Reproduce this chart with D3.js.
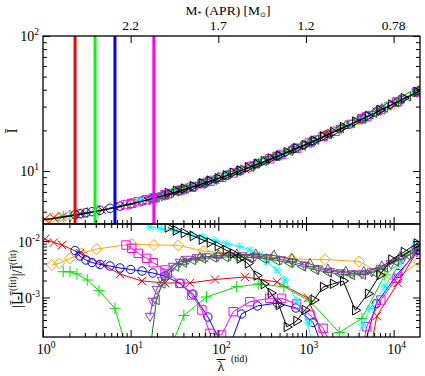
<!DOCTYPE html>
<html>
<head>
<meta charset="utf-8">
<script src="https://cdn.jsdelivr.net/npm/d3@7"></script>
<style>
  html, body { margin: 0; padding: 0; background: #fff; }
  svg { display: block; }
</style>
</head>
<body>
<div id="chart"></div>
<script>
// fit curve (top panel)
const fitLambda = [1, 2, 5, 10, 20, 50, 100, 200, 500, 1000, 2000, 5000, 10000, 20000];
const fitI      = [4.35, 4.64, 5.16, 5.69, 6.38, 7.59, 8.79, 10.33, 13.04, 15.7, 19.24, 25.3, 31.4, 39.2];

// top axis: M* (APR)
const mstarLambda = [10, 100, 1000, 10000];
const mstarLabels = ["2.2", "1.7", "1.2", "0.78"];

// vertical markers in the top panel
const vlineLambda = [2.32, 3.92, 6.62, 18.4];
const vlineColors = ["#ff0000", "#00ff00", "#0000ff", "#ff00ff"];

// relative residuals |I - I_fit| / I_fit, one pair of arrays per EOS
const orangeLambda = [1.26, 1.53, 2.03, 2.76, 4.10, 10.3, 18.4, 34.9, 67.3, 229, 685, 1640, 4040, 10000, 19400];
const orangeErr    = [0.00376, 0.00403, 0.00494, 0.00606, 0.00721, 0.00885, 0.00849, 0.0084, 0.00665, 0.00565, 0.0048, 0.00471, 0.00434, 0.00196, 0.00425];

const redLambda = [1.05, 1.33, 1.65, 2.64, 4.71, 7.55, 13.5, 24.6, 47.4, 91.5, 201, 466, 1050, 1870, 5350, 6430, 11200, 18900];
const redErr    = [0.0108, 0.0094, 0.0085, 0.0061, 0.0039, 0.0026, 0.00196, 0.00181, 0.00181, 0.00208, 0.00231, 0.00188, 0.00098, 0.0001, 0.0001, 0.00047, 0.0018, 0.0069];

const greenLambda = [1.70, 2.03, 2.44, 3.20, 4.35, 6.62, 9.31, 26.6, 40.5, 73.2, 162, 290, 560, 1110, 2400, 4340, 7940, 18800];
const greenErr    = [0.00286, 0.00286, 0.00261, 0.00204, 0.00132, 0.000644, 0.0001, 0.0001, 0.00048, 0.00102, 0.00155, 0.00173, 0.00155, 0.000867, 0.00024, 0.000425, 0.0025, 0.00752];

const blueLambda = [2.32, 2.64, 3.09, 3.62, 4.47, 5.81, 7.55, 10.0, 13.5, 17.9, 24.6, 36.5, 51.3, 76.1, 125, 184, 279, 472, 767, 1210, 1640, 4340, 6350, 11200, 19400];
const blueErr    = [0.00679, 0.00543, 0.00461, 0.00417, 0.00384, 0.00361, 0.00333, 0.00313, 0.00294, 0.00272, 0.0024, 0.00177, 0.00115, 0.000452, 0.0001, 0.000511, 0.000708, 0.0008, 0.000652, 0.000361, 0.0001, 0.0001, 0.000783, 0.00266, 0.00693];

const magentaLambda = [8.84, 10.3, 12.2, 15.2, 18.1, 24.6, 36.5, 49.6, 65.0, 80.2, 109, 148, 229, 387, 527, 781, 1110, 1570, 2140, 4340, 4910, 7150, 10800, 18200];
const magentaErr    = [0.00849, 0.00743, 0.00606, 0.00494, 0.00413, 0.00307, 0.00178, 0.00111, 0.000601, 0.000232, 0.000217, 0.000561, 0.000843, 0.000968, 0.000968, 0.000767, 0.00049, 0.000285, 0.0001, 0.0001, 0.000304, 0.000903, 0.00219, 0.00693];

const cyanLambda = [13, 16.6, 22.2, 32.0, 47.4, 66.7, 91.5, 125, 176, 229, 298, 358, 466, 574, 787, 1050, 1230, 3000, 4450, 5350, 7940, 11800, 17500];
const cyanErr    = [0.024, 0.0177, 0.0165, 0.015, 0.0133, 0.0118, 0.0102, 0.00896, 0.008, 0.00693, 0.00565, 0.00425, 0.00307, 0.00204, 0.000867, 0.000354, 0.0001, 0.0001, 0.000326, 0.000638, 0.00155, 0.00403, 0.00849];

const dkgreenLambda = [17.0, 19.7, 23.0, 27.3, 32.9, 40.5, 51.3, 66.7, 89.1, 122, 167, 235, 331, 466, 655, 922, 1300, 1820, 2500, 3340, 4450, 5940, 7940, 10600, 14500, 19400];
const dkgreenErr    = [0.00015, 0.000903, 0.00177, 0.00272, 0.00354, 0.00417, 0.00461, 0.0049, 0.00511, 0.00521, 0.00521, 0.00511, 0.0049, 0.00452, 0.00408, 0.00354, 0.00307, 0.00277, 0.00255, 0.0025, 0.00255, 0.00283, 0.0034, 0.00434, 0.00565, 0.00721];

const violetLambda = [16.6, 17.9, 19.9, 22.7, 25.9, 30.4, 36.5, 45.0, 57.0, 74.1, 98.9, 136, 186, 261, 368, 517, 709, 971, 1370, 1870, 2500, 3340, 4340, 5640, 7150, 9290, 12700, 18400];
const violetErr    = [0.000471, 0.000867, 0.00141, 0.00204, 0.00283, 0.00361, 0.00425, 0.0048, 0.00511, 0.00532, 0.00543, 0.00554, 0.00554, 0.00543, 0.00511, 0.00471, 0.00425, 0.00376, 0.00326, 0.00294, 0.00277, 0.00266, 0.00266, 0.00288, 0.00333, 0.004, 0.0049, 0.00652];

const grayLambda = [38.5, 61.7, 100, 163, 268, 430, 691, 1110, 1780, 2850, 4570, 7330, 11800, 18900];
const grayErr    = [0.00434, 0.00511, 0.00554, 0.00577, 0.00577, 0.00554, 0.0048, 0.00392, 0.00313, 0.00283, 0.00283, 0.00354, 0.00521, 0.00783];

const blackLambda = [26.6, 32.9, 40.5, 51.3, 65.0, 80.2, 98.9, 122, 147, 176, 218, 275, 331, 398, 491, 606, 781, 971, 1230, 1570, 2040, 2660, 3660, 5120, 6960, 9460, 13100, 18400];
const blackErr    = [0.0173, 0.0153, 0.0139, 0.0123, 0.0106, 0.00942, 0.00817, 0.00693, 0.00601, 0.0049, 0.004, 0.00245, 0.00173, 0.0012, 0.000736, 0.000301, 0.000384, 0.000601, 0.000903, 0.00153, 0.00175, 0.00196, 0.000594, 0.00117, 0.0025, 0.00471, 0.00638, 0.00903];

const series = [
  { lam: orangeLambda,  err: orangeErr,  color: "#ffa500", marker: "diamond" },
  { lam: redLambda,     err: redErr,     color: "#ff0000", marker: "x" },
  { lam: greenLambda,   err: greenErr,   color: "#00e000", marker: "plus" },
  { lam: blueLambda,    err: blueErr,    color: "#0000ff", marker: "circle" },
  { lam: magentaLambda, err: magentaErr, color: "#ff00ff", marker: "square" },
  { lam: cyanLambda,    err: cyanErr,    color: "#00ffff", marker: "star" },
  { lam: dkgreenLambda, err: dkgreenErr, color: "#008b00", marker: "tri-left" },
  { lam: violetLambda,  err: violetErr,  color: "#9932cc", marker: "tri-down" },
  { lam: grayLambda,    err: grayErr,    color: "#555555", marker: "tri-up" },
  { lam: blackLambda,   err: blackErr,   color: "#000000", marker: "tri-right" }
];

// ---------------- layout ----------------
const W = 425, H = 376;
const L = 43, R = 420, T = 36, MID = 224, B = 337;
const FONT = "'Liberation Serif', 'Times New Roman', serif";

const svg = d3.select("#chart").append("svg")
  .attr("width", W).attr("height", H)
  .attr("font-family", FONT);

const x = d3.scaleLog().domain([1, 2e4]).range([L, R]);
const yTop = d3.scaleLog().domain([4.05, 100]).range([MID, T]);
const yBot = d3.scaleLog().domain([2e-4, 2e-2]).range([B, MID]);
const fitAt = d3.scaleLog().domain(fitLambda).range(fitI);

const defs = svg.append("defs");
defs.append("clipPath").attr("id", "clipTop").append("rect")
  .attr("x", L).attr("y", T).attr("width", R - L).attr("height", MID - T);
defs.append("clipPath").attr("id", "clipBot").append("rect")
  .attr("x", L).attr("y", MID).attr("width", R - L).attr("height", B - MID);

function markerPath(type, r) {
  if (type === "circle") return `M${r},0A${r},${r} 0 1,1 ${-r},0A${r},${r} 0 1,1 ${r},0Z`;
  if (type === "square") return `M${-r},${-r}H${r}V${r}H${-r}Z`;
  if (type === "diamond") { const d = r * 1.3; return `M0,${-d}L${d},0L0,${d}L${-d},0Z`; }
  if (type === "x") return `M${-r},${-r}L${r},${r}M${-r},${r}L${r},${-r}`;
  if (type === "plus") { const p = r * 1.35; return `M${-p},0H${p}M0,${-p}V${p}`; }
  if (type === "star") {
    const q = r * 0.75;
    return `M${-r},0H${r}M0,${-r}V${r}M${-q},${-q}L${q},${q}M${-q},${q}L${q},${-q}`;
  }
  const a0 = { "tri-up": -90, "tri-down": 90, "tri-right": 0, "tri-left": 180 }[type];
  const Rr = r * 1.3;
  const pts = [0, 1, 2].map(k => {
    const a = (a0 + k * 120) * Math.PI / 180;
    return [Rr * Math.cos(a), Rr * Math.sin(a)];
  });
  return "M" + pts.map(p => p[0].toFixed(2) + "," + p[1].toFixed(2)).join("L") + "Z";
}

// ---------------- top panel ----------------
const topG = svg.append("g").attr("clip-path", "url(#clipTop)");

series.forEach(s => {
  const pts = s.lam.map((l, i) => [l, fitAt(l) * (1 + s.err[i])]);
  topG.append("g").selectAll("path").data(pts).join("path")
    .attr("transform", d => `translate(${x(d[0])},${yTop(d[1])})`)
    .attr("d", markerPath(s.marker, 4.2))
    .attr("fill", "none").attr("stroke", s.color).attr("stroke-width", 1);
});

topG.append("path")
  .datum(fitLambda.map((l, i) => [l, fitI[i]]))
  .attr("fill", "none").attr("stroke", "#000").attr("stroke-width", 1.5)
  .attr("d", d3.line().x(d => x(d[0])).y(d => yTop(d[1])).curve(d3.curveMonotoneX));

topG.selectAll(".vline").data(vlineLambda).join("line")
  .attr("class", "vline")
  .attr("x1", d => x(d)).attr("x2", d => x(d))
  .attr("y1", T).attr("y2", MID)
  .attr("stroke", (d, i) => vlineColors[i]).attr("stroke-width", 3);

// ---------------- bottom panel ----------------
const botG = svg.append("g").attr("clip-path", "url(#clipBot)");
const resLine = d3.line().x(d => x(d[0])).y(d => yBot(d[1]));

series.forEach(s => {
  const pts = s.lam.map((l, i) => [l, s.err[i]]);
  botG.append("path").datum(pts)
    .attr("fill", "none").attr("stroke", s.color).attr("stroke-width", 1)
    .attr("d", resLine);
  botG.append("g").selectAll("path").data(pts).join("path")
    .attr("transform", d => `translate(${x(d[0])},${yBot(d[1])})`)
    .attr("d", markerPath(s.marker, 4.2))
    .attr("fill", "none").attr("stroke", s.color).attr("stroke-width", 1);
});

// ---------------- axes ----------------
const xMajor = [1, 10, 100, 1000, 10000];
const xMinor = [];
xMajor.forEach(m => d3.range(2, 10).forEach(k => { if (m * k < 2e4) xMinor.push(m * k); }));
const yTopMajor = [10, 100];
const yTopMinor = [5, 6, 7, 8, 9, 20, 30, 40, 50, 60, 70, 80, 90];
const yBotMajor = [1e-3, 1e-2];
const yBotMinor = [3e-4, 4e-4, 5e-4, 6e-4, 7e-4, 8e-4, 9e-4, 2e-3, 3e-3, 4e-3, 5e-3, 6e-3, 7e-3, 8e-3, 9e-3];

function ticks(axis, vals, size, tx, ty) {
  svg.append("g").attr("transform", `translate(${tx},${ty})`)
    .call(axis.tickValues(vals).tickSize(-size).tickFormat(""))
    .call(g => g.select(".domain").remove())
    .call(g => g.selectAll("line").attr("stroke", "#000").attr("stroke-width", 1));
}

[[xMajor, 7], [xMinor, 4]].forEach(([v, s]) => {
  ticks(d3.axisBottom(x), v, s, 0, MID);   // top panel, bottom edge
  ticks(d3.axisTop(x), v, s, 0, MID);      // bottom panel, top edge
  ticks(d3.axisBottom(x), v, s, 0, B);     // bottom panel, bottom edge
});
ticks(d3.axisTop(x), mstarLambda, 7, 0, T);

[[yTopMajor, 7], [yTopMinor, 4]].forEach(([v, s]) => {
  ticks(d3.axisLeft(yTop), v, s, L, 0);
  ticks(d3.axisRight(yTop), v, s, R, 0);
});
[[yBotMajor, 7], [yBotMinor, 4]].forEach(([v, s]) => {
  ticks(d3.axisLeft(yBot), v, s, L, 0);
  ticks(d3.axisRight(yBot), v, s, R, 0);
});

// frames
svg.append("rect").attr("x", L).attr("y", T).attr("width", R - L).attr("height", MID - T)
  .attr("fill", "none").attr("stroke", "#000").attr("stroke-width", 1.3);
svg.append("rect").attr("x", L).attr("y", MID).attr("width", R - L).attr("height", B - MID)
  .attr("fill", "none").attr("stroke", "#000").attr("stroke-width", 1.3);

// ---------------- labels ----------------
function powLabel(px, py, exp, anchor) {
  const t = svg.append("text").attr("x", px).attr("y", py)
    .attr("text-anchor", anchor).attr("font-size", 14).attr("fill", "#000");
  t.append("tspan").text("10");
  t.append("tspan").attr("font-size", 9.5).attr("dy", -6).text(exp);
}

xMajor.forEach(v => powLabel(x(v) + 3, B + 17, String(Math.round(Math.log10(v))), "middle"));
yTopMajor.forEach(v => powLabel(L - 4, yTop(v) + 5, String(Math.round(Math.log10(v))), "end"));
yBotMajor.forEach(v => powLabel(L - 3, yBot(v) + 5.5, String(Math.round(Math.log10(v))), "end"));

svg.selectAll(".mlab").data(mstarLambda).join("text")
  .attr("class", "mlab")
  .attr("x", d => x(d)).attr("y", 29.5)
  .attr("text-anchor", "middle").attr("font-size", 13.5)
  .text((d, i) => mstarLabels[i]);

const title = svg.append("text").attr("x", 228).attr("y", 14.5)
  .attr("text-anchor", "middle").attr("font-size", 13.5);
title.append("tspan").text("M");
title.append("tspan").attr("font-size", 8).attr("dy", 2).text("*");
title.append("tspan").attr("dy", -2).text(" (APR) [M");
title.append("tspan").attr("font-size", 7).attr("dy", 2).text("⊙");
title.append("tspan").attr("dy", -2).text("]");

svg.append("text").attr("transform", "translate(17,131) rotate(-90)")
  .attr("text-anchor", "middle").attr("font-size", 14).text("Ī");

const yl = svg.append("text").attr("transform", "translate(22,279) rotate(-90)")
  .attr("text-anchor", "middle").attr("font-size", 14);
yl.append("tspan").text("|Ī-Ī");
yl.append("tspan").attr("font-size", 9.5).attr("dy", -6).text("(fit)");
yl.append("tspan").attr("dy", 6).text("|/Ī");
yl.append("tspan").attr("font-size", 9.5).attr("dy", -6).text("(fit)");

svg.append("text").attr("x", 221).attr("y", 370.5)
  .attr("text-anchor", "middle").attr("font-size", 14).text("λ");
svg.append("line").attr("x1", 216.5).attr("x2", 225.5).attr("y1", 359.5).attr("y2", 359.5)
  .attr("stroke", "#000").attr("stroke-width", 1);
svg.append("text").attr("x", 231).attr("y", 362)
  .attr("font-size", 9.5).text("(tid)");
</script>
</body>
</html>
